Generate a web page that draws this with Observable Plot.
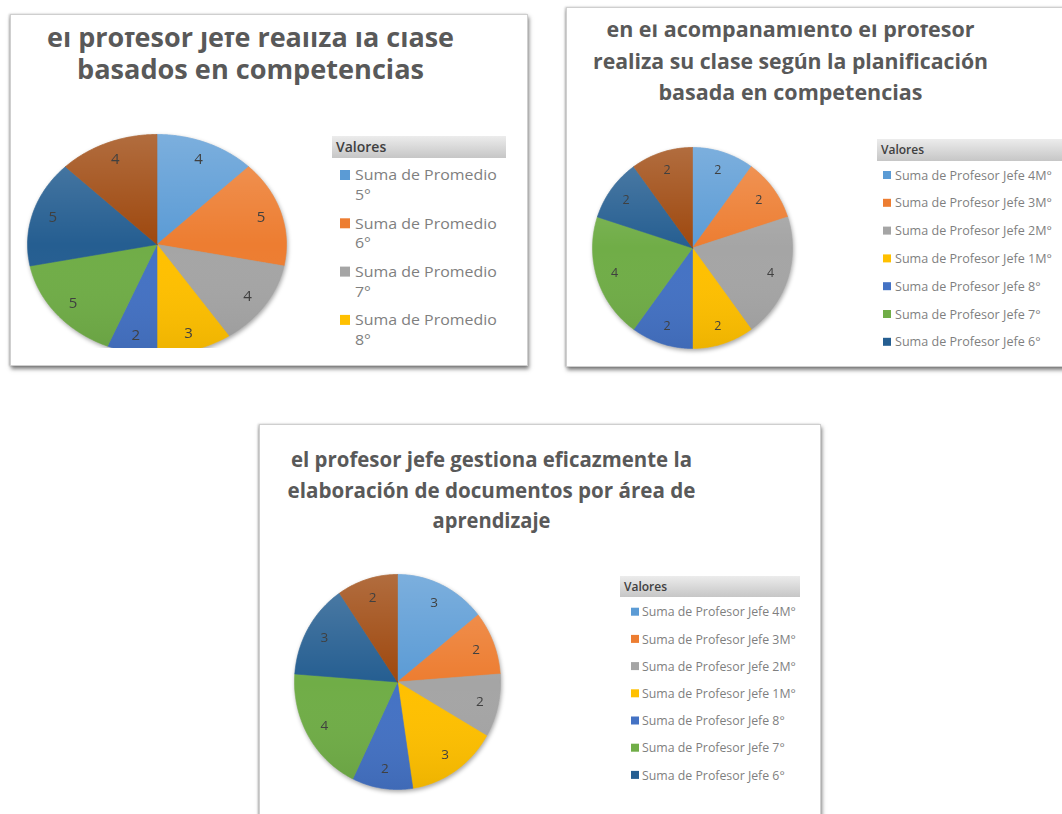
<!DOCTYPE html>
<html><head><meta charset="utf-8">
<script src="https://cdn.jsdelivr.net/npm/d3@7"></script>
<script src="https://cdn.jsdelivr.net/npm/@observablehq/plot@0.6"></script>
<style>
html,body{margin:0;padding:0;}
body{width:1062px;height:814px;overflow:hidden;background:#fff;position:relative;font-family:"Open Sans",sans-serif;}
.panel{position:absolute;background:#fff;border:1px solid #cfcfcf;box-shadow:1px 3px 4px rgba(0,0,0,.5),-1px 0 2px rgba(0,0,0,.2);}
.wrap{position:absolute;overflow:hidden;}
.wrap svg{display:block;filter:drop-shadow(1px 2px 2px rgba(0,0,0,.35));}
</style></head>
<body>
<div class="panel" style="left:10px;top:14px;width:516px;height:350px"></div>
<div class="panel" style="left:566px;top:7px;width:520px;height:358px"></div>
<div class="panel" style="left:259px;top:424px;width:560px;height:420px"></div>
<script>
// ---- data ----
const colors = ["#5B9BD5","#ED7D31","#A5A5A5","#FFC000","#4472C4","#70AD47","#255E91","#9E480E"];
const series1 = ["Suma de Promedio 5°","Suma de Promedio 6°","Suma de Promedio 7°","Suma de Promedio 8°","Suma de Promedio 1M°","Suma de Promedio 2M°","Suma de Promedio 3M°","Suma de Promedio 4M°"];
const values1 = [4,5,4,3,2,5,5,4];
const series2 = ["Suma de Profesor Jefe 4M°","Suma de Profesor Jefe 3M°","Suma de Profesor Jefe 2M°","Suma de Profesor Jefe 1M°","Suma de Profesor Jefe 8°","Suma de Profesor Jefe 7°","Suma de Profesor Jefe 6°","Suma de Profesor Jefe 5°"];
const values2 = [2,2,4,2,2,4,2,2];
const series3 = series2;
const values3 = [3,2,2,3,2,4,3,2];
const title1 = ["el profesor jefe realiza la clase","basados en competencias"];
const title2 = ["en el acompanamiento el profesor","realiza su clase según la planificación","basada en competencias"];
const title3 = ["el profesor jefe gestiona eficazmente la","elaboración de documentos por área de","aprendizaje"];

function pieData(series, values, lr) {
  const arcs = d3.pie().sort(null).value(d => d)(values);
  const pts = [], labels = [];
  arcs.forEach((a, i) => {
    const n = Math.max(4, Math.ceil((a.endAngle - a.startAngle) / 0.01));
    pts.push({s: series[i], x: 0, y: 0});
    for (let k = 0; k <= n; k++) {
      const t = a.startAngle + (a.endAngle - a.startAngle) * k / n;
      pts.push({s: series[i], x: Math.sin(t), y: Math.cos(t)});
    }
    pts.push({s: series[i], x: 0, y: 0});
    const m = (a.startAngle + a.endAngle) / 2;
    labels.push({s: series[i], v: values[i], x: lr * Math.sin(m), y: lr * Math.cos(m)});
  });
  return {pts, labels};
}

function drawPie(c) {
  const {pts, labels} = pieData(c.series, c.values, c.lr);
  const pad = 12;
  const left = c.cx - c.rx - pad, top = c.cy - c.ry - pad;
  const W = 2 * c.rx + 2 * pad, H = 2 * c.ry + 2 * pad;
  const wrap = document.createElement("div");
  wrap.className = "wrap";
  wrap.style.left = left + "px"; wrap.style.top = top + "px";
  wrap.style.width = W + "px";
  wrap.style.height = (c.clipBottom ? c.clipBottom - top : H) + "px";
  const ccx = c.cx - left, ccy = c.cy - top;
  const svg = Plot.plot({
    width: W, height: H, margin: 0,
    style: {background: "transparent", overflow: "visible"},
    x: {domain: [-1, 1], range: [ccx - c.rx, ccx + c.rx], axis: null},
    y: {domain: [-1, 1], range: [ccy + c.ry, ccy - c.ry], axis: null},
    color: {domain: c.series, range: colors},
    marks: [
      Plot.line(pts, {x: "x", y: "y", z: "s", fill: "s", stroke: "s", strokeWidth: 0.6, curve: "linear"}),
      Plot.line(pts, {x: "x", y: "y", z: "s", fill: "url(#" + c.id + ")", stroke: "none", curve: "linear"}),
      Plot.text(labels, {x: "x", y: "y", text: "v", fill: "#404040", fontSize: c.fs, fontFamily: "Open Sans"})
    ]
  });
  const g = d3.select(svg).insert("defs", ":first-child").append("linearGradient")
    .attr("id", c.id).attr("gradientUnits", "userSpaceOnUse")
    .attr("x1", 0).attr("x2", 0).attr("y1", ccy - c.ry).attr("y2", ccy + c.ry);
  g.append("stop").attr("offset", 0).attr("stop-color", "#fff").attr("stop-opacity", 0.2);
  g.append("stop").attr("offset", 0.5).attr("stop-color", "#fff").attr("stop-opacity", 0);
  g.append("stop").attr("offset", 1).attr("stop-color", "#000").attr("stop-opacity", 0.07);
  wrap.appendChild(svg);
  document.body.appendChild(wrap);
}

drawPie({id: "g1", series: series1, values: values1, cx: 156, cy: 243.5, rx: 129.5, ry: 110, fs: 15, lr: 0.84, clipBottom: 348});
drawPie({id: "g2", series: series2, values: values2, cx: 692.3, cy: 247, rx: 100, ry: 100.5, fs: 12.5, lr: 0.82});
drawPie({id: "g3", series: series3, values: values3, cx: 396.5, cy: 681.5, rx: 103, ry: 107.5, fs: 13.5, lr: 0.82});

// ---- overlay: titles and legends ----
const ov = d3.select("body").append("svg").attr("width", 1062).attr("height", 814)
  .style("position", "absolute").style("left", 0).style("top", 0)
  .attr("font-family", "Open Sans");
const defs = ov.append("defs");
const hg = defs.append("linearGradient").attr("id", "hdr").attr("x1", 0).attr("x2", 0).attr("y1", 0).attr("y2", 1);
hg.append("stop").attr("offset", 0).attr("stop-color", "#ececec");
hg.append("stop").attr("offset", 1).attr("stop-color", "#c6c6c6");

function title(lines, cx, baselines, widths, fs, clipY, id) {
  const g = ov.append("g");
  if (clipY != null) {
    defs.append("clipPath").attr("id", id).append("rect")
      .attr("x", 0).attr("y", clipY).attr("width", 1062).attr("height", 814);
    g.attr("clip-path", `url(#${id})`);
  }
  lines.forEach((t, i) => g.append("text")
    .attr("x", cx).attr("y", baselines[i]).attr("text-anchor", "middle")
    .attr("font-size", fs).attr("font-weight", 700).attr("fill", "#595959")
    .attr("textLength", widths[i]).attr("lengthAdjust", "spacingAndGlyphs").text(t));
}
title(title1, 250.5, [46.5, 79], [407, 347], 26, 32, "c1");
title(title2, 790.5, [37, 68.5, 100], [368, 395, 264], 22, 24.5, "c2");
title(title3, 491.5, [467, 498, 528], [401, 408, 118], 21.5, null, "c3");

function legend(c) {
  const g = ov.append("g");
  g.append("rect").attr("x", c.hx).attr("y", c.hy).attr("width", c.hw).attr("height", c.hh).attr("fill", "url(#hdr)");
  g.append("text").attr("x", c.hx + 4).attr("y", c.hy + c.hh / 2 + c.hfs * 0.36)
    .attr("font-size", c.hfs).attr("font-weight", 600).attr("fill", "#404040").text("Valores");
  let sx = null;
  c.series.slice(0, c.n).forEach((s, i) => {
    const cy = c.y0 + c.dy * i;
    g.append("rect").attr("x", c.sqx).attr("y", cy - c.sq / 2).attr("width", c.sq).attr("height", c.sq).attr("fill", colors[i]);
    const lines = c.wrap ? [s.slice(0, s.lastIndexOf(" ")), s.slice(s.lastIndexOf(" ") + 1)] : [s];
    lines.forEach((t, j) => {
      const el = g.append("text").attr("x", 0).attr("y", 0)
        .attr("font-size", c.fs).attr("fill", "#7f7f7f").text(t);
      if (sx == null) sx = c.tw / el.node().getComputedTextLength();
      el.attr("transform", `translate(${c.tx},${cy + c.fs * 0.36 + j * c.lh}) scale(${sx},1)`);
    });
  });
}
legend({series: series1, n: 4, wrap: true, hx: 332, hy: 136, hw: 174, hh: 22, hfs: 14,
  y0: 175, dy: 48.3, sq: 10, sqx: 340, tx: 355, tw: 142, fs: 15, lh: 19.5});
legend({series: series2, n: 7, wrap: false, hx: 877, hy: 139, hw: 200, hh: 22, hfs: 12,
  y0: 175, dy: 27.8, sq: 8, sqx: 883, tx: 895, tw: 157, fs: 12.5, lh: 0});
legend({series: series3, n: 7, wrap: false, hx: 620, hy: 576, hw: 180, hh: 21, hfs: 12,
  y0: 611.7, dy: 27.2, sq: 8, sqx: 631, tx: 642, tw: 154, fs: 13, lh: 0});
</script>
</body></html>
